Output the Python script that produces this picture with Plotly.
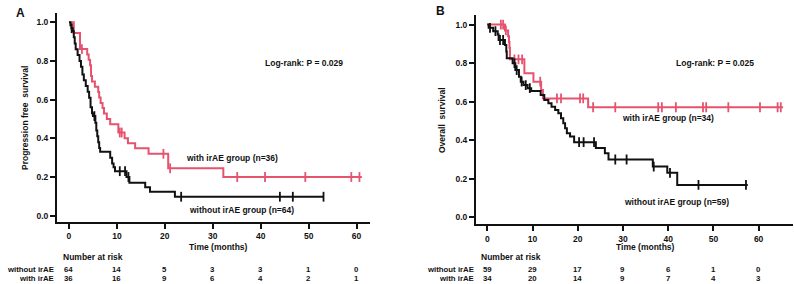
import numpy as np
import plotly.graph_objects as go

W, H = 794, 284
RED = "#E5536F"
BLK = "#111111"
FONT = "Liberation Sans"

# ---------------- data: panel A (PFS) ----------------
A_red_t = [0, 1.0, 2.3, 3.8, 4.1, 4.4, 4.6, 4.8, 5.4, 6.1, 6.3, 6.6, 7.0, 7.3, 7.9, 8.6,
           10.3, 11.6, 12.3, 13.8, 16.6, 20.7, 32.2]
A_red_s = [1.0, 0.944, 0.861, 0.833, 0.806, 0.778, 0.722, 0.694, 0.667, 0.639, 0.611, 0.583,
           0.556, 0.528, 0.50, 0.472, 0.43, 0.40, 0.374, 0.348, 0.32, 0.245, 0.20]
A_red_end = 61.1
A_red_cens = [2.7, 10.6, 11.0, 19.7, 21.1, 35.1, 40.9, 49.3, 58.9, 60.6]

A_blk_t = [0, 0.3, 0.5, 0.8, 1.0, 1.2, 1.4, 1.8, 2.2, 2.5, 2.8, 3.1, 3.5, 3.9, 4.2, 4.5, 4.8,
           5.0, 5.5, 5.7, 5.9, 6.1, 6.3, 6.5, 8.6, 9.0, 9.3, 9.6, 12.0, 12.6, 15.9, 16.9, 22.1]
A_blk_s = [1.0, 0.984, 0.969, 0.953, 0.922, 0.89, 0.86, 0.83, 0.80, 0.77, 0.73, 0.70, 0.67,
           0.64, 0.61, 0.56, 0.53, 0.515, 0.48, 0.44, 0.41, 0.38, 0.35, 0.33, 0.30, 0.27, 0.25,
           0.23, 0.20, 0.17, 0.147, 0.124, 0.098]
A_blk_end = 53.1
A_blk_cens = [0.56, 5.3, 10.6, 11.7, 12.4, 23.4, 44.0, 46.7, 53.1]

# ---------------- data: panel B (OS) ----------------
B_red_t = [0, 3.9, 4.6, 4.8, 4.9, 5.0, 8.2, 10.2, 11.9, 12.3, 22.3]
B_red_s = [1.0, 0.97, 0.94, 0.91, 0.88, 0.82, 0.747, 0.704, 0.66, 0.617, 0.571]
B_red_end = 65.4
B_red_cens = [3.0, 3.5, 4.1, 6.0, 6.9, 7.7, 11.7, 15.4, 16.3, 20.5, 21.2, 23.4, 28.3, 37.8,
              38.6, 41.7, 47.7, 48.4, 53.3, 60.3, 64.2, 64.9]

B_blk_t = [0, 0.3, 1.3, 2.3, 2.5, 3.9, 4.2, 4.3, 5.6, 6.2, 7.0, 7.4, 8.0, 8.9, 9.7, 11.8, 12.6,
           13.5, 14.2, 15.0, 15.7, 16.3, 16.8, 17.2, 17.6, 18.3, 19.2, 24.0, 26.0, 26.8, 36.6,
           39.8, 42.0]
B_blk_s = [1.0, 0.983, 0.966, 0.949, 0.92, 0.894, 0.86, 0.825, 0.80, 0.764, 0.73, 0.704, 0.686,
           0.67, 0.656, 0.635, 0.609, 0.592, 0.574, 0.557, 0.54, 0.514, 0.488, 0.462, 0.436,
           0.419, 0.39, 0.36, 0.332, 0.30, 0.263, 0.231, 0.168]
B_blk_end = 57.6
B_blk_cens = [0.6, 1.8, 2.8, 3.5, 6.0, 6.5, 7.6, 8.5, 9.4, 20.3, 21.3, 23.6, 28.3, 30.8, 36.8,
              40.4, 46.7, 57.2]

# ---------------- risk tables ----------------
risk_times = [0, 10, 20, 30, 40, 50, 60]
A_risk_without = [64, 14, 5, 3, 3, 1, 0]
A_risk_with = [36, 16, 9, 6, 4, 2, 1]
B_risk_without = [59, 29, 17, 9, 6, 1, 0]
B_risk_with = [34, 20, 14, 9, 7, 4, 3]
risk_rows = ["without irAE", "with irAE"]

x_ticks = [0, 10, 20, 30, 40, 50, 60]
y_ticks = [0.0, 0.2, 0.4, 0.6, 0.8, 1.0]

fig = go.Figure()


def add_curve(t, s, end, cens, color, xa, ya):
    tt = list(t) + [end]
    ss = list(s) + [s[-1]]
    fig.add_trace(go.Scatter(x=tt, y=ss, mode="lines", line=dict(color=color, width=2, shape="hv"),
                             xaxis=xa, yaxis=ya, showlegend=False, hoverinfo="skip"))
    idx = np.searchsorted(np.array(t), np.array(cens), side="right") - 1
    cy = [s[i] for i in idx]
    fig.add_trace(go.Scatter(x=cens, y=cy, mode="markers",
                             marker=dict(symbol="line-ns-open", size=7, color=color,
                                         line=dict(color=color, width=1.8)),
                             xaxis=xa, yaxis=ya, showlegend=False, hoverinfo="skip"))


add_curve(A_red_t, A_red_s, A_red_end, A_red_cens, RED, "x", "y")
add_curve(A_blk_t, A_blk_s, A_blk_end, A_blk_cens, BLK, "x", "y")
add_curve(B_red_t, B_red_s, B_red_end, B_red_cens, RED, "x2", "y2")
add_curve(B_blk_t, B_blk_s, B_blk_end, B_blk_cens, BLK, "x2", "y2")

tickfont = dict(family=FONT, size=8.5, color="#111")
axcommon = dict(showline=True, linewidth=2, linecolor="#111", ticks="outside", ticklen=5,
                tickwidth=2, tickcolor="#111", showgrid=False, zeroline=False, tickfont=tickfont)
xtt = ["<b>%d</b>" % v for v in x_ticks]
ytt = ["<b>%.1f</b>" % v for v in y_ticks]

fig.update_layout(
    width=W, height=H, margin=dict(l=0, r=0, t=0, b=0),
    paper_bgcolor="white", plot_bgcolor="white",
    xaxis=dict(domain=[57 / W, 370 / W], range=[-2.5, 62.8], tickvals=x_ticks, ticktext=xtt,
               anchor="y", **axcommon),
    yaxis=dict(domain=[(H - 222) / H, (H - 13) / H], range=[-0.0326, 1.0475], tickvals=y_ticks,
               ticktext=ytt, anchor="x", **axcommon),
    xaxis2=dict(domain=[476 / W, 793 / W], range=[-2.5, 67.6], tickvals=x_ticks, ticktext=xtt,
                anchor="y2", **axcommon),
    yaxis2=dict(domain=[(H - 224.3) / H, (H - 15) / H], range=[-0.0363, 1.0498], tickvals=y_ticks,
                ticktext=ytt, anchor="x2", **axcommon),
)

anns = []


def ann(px, py, text, size=8.5, angle=0, xanchor="center", xref="paper", xval=None):
    anns.append(dict(x=(px / W) if xval is None else xval, y=1 - py / H, xref=xref, yref="paper",
                     text="<b>%s</b>" % text, showarrow=False, xanchor=xanchor, yanchor="middle",
                     textangle=angle, borderpad=0,
                     font=dict(family=FONT, size=size, color="#111")))


ann(20, 13, "A", size=12)
ann(441, 11, "B", size=12)
ann(25, 118, "Progression free  survival", angle=-90)
ann(442, 120, "Overall  survival", angle=-90)
ann(303.7, 62.7, "Log-rank: P = 0.029")
ann(715, 62.7, "Log-rank: P = 0.025")
ann(232, 157.7, "with irAE group (n=36)")
ann(241, 210, "without irAE group (n=64)")
ann(668, 118, "with irAE group (n=34)")
ann(676, 201.7, "without irAE group (n=59)")
ann(218, 246.7, "Time (months)")
ann(645, 246.7, "Time (months)")
ann(93, 257.3, "Number at risk")
ann(511, 257.3, "Number at risk")

ROW1, ROW2 = 269.4, 278.5
RS = 7.8
for px in (54.5, 474.5):
    ann(px, ROW1, risk_rows[0], size=RS, xanchor="right")
    ann(px, ROW2, risk_rows[1], size=RS, xanchor="right")

for xref, rw, rwi in [("x", A_risk_without, A_risk_with), ("x2", B_risk_without, B_risk_with)]:
    for t, a, b in zip(risk_times, rw, rwi):
        ann(0, ROW1, str(a), size=RS, xref=xref, xval=t)
        ann(0, ROW2, str(b), size=RS, xref=xref, xval=t)

fig.update_layout(annotations=anns)
fig.write_html("out.html")
